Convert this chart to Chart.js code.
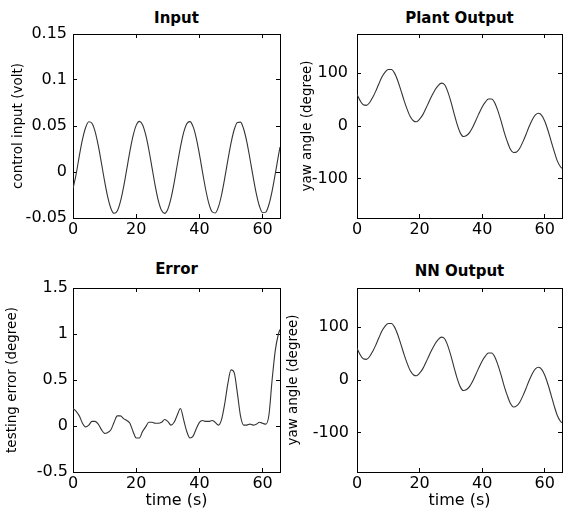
<!DOCTYPE html>
<html>
<head>
<meta charset="utf-8">
<script src="https://cdn.jsdelivr.net/npm/chart.js@4"></script>
<style>
  body { margin: 0; background: #fff; }
  #wrap { position: relative; width: 563px; height: 515px; overflow: hidden; background: #fff; }
  #wrap canvas { position: absolute; }
  .titulo { position: absolute; font: bold 15px "DejaVu Sans", sans-serif; text-align: center; color: #000; line-height: 18px; }
</style>
</head>
<body>
<div id="wrap">
  <div class="titulo" style="left:73px;width:207px;top:9px;">Input</div>
  <div class="titulo" style="left:357px;width:205px;top:9px;">Plant Output</div>
  <div class="titulo" style="left:73px;width:207px;top:260px;">Error</div>
  <div class="titulo" style="left:357px;width:205px;top:262px;">NN Output</div>
  <canvas id="cInput" width="283" height="250" style="left:0;top:0"></canvas>
  <canvas id="cPlanta" width="280" height="250" style="left:283px;top:0"></canvas>
  <canvas id="cError" width="283" height="265" style="left:0;top:250px"></canvas>
  <canvas id="cRed" width="280" height="265" style="left:283px;top:250px"></canvas>
</div>
<script>
// tiempo en segundos
const tiempo = [0,1,2,3,4,5,6,7,8,9,10,11,12,13,14,15,16,17,18,19,20,21,22,23,24,25,26,27,28,29,
  30,31,32,33,34,35,36,37,38,39,40,41,42,43,44,45,46,47,48,49,50,51,52,53,54,55,56,57,58,59,
  60,61,62,63,64,65,65.5];

// entrada de control (volt)
const entradaVolt = [-0.018, -0.0022, 0.0176, 0.0354, 0.0484, 0.0546, 0.0530, 0.0439, 0.0286, 0.0097,
  -0.0100, -0.0274, -0.0396, -0.0449, -0.0424, -0.0323, -0.0164, 0.0028, 0.0224, 0.0392,
  0.0507, 0.0550, 0.0514, 0.0405, 0.0242, 0.0047, -0.0147, -0.0311, -0.0417, -0.0450,
  -0.0405, -0.0288, -0.0118, 0.0079, 0.0270, 0.0427, 0.0525, 0.0548, 0.0493, 0.0369,
  0.0194, -0.0004, -0.0193, -0.0344, -0.0432, -0.0446, -0.0382, -0.0250, -0.0069, 0.0129,
  0.0314, 0.0459, 0.0539, 0.0542, 0.0467, 0.0328, 0.0144, -0.0054, -0.0235, -0.0372,
  -0.0443, -0.0436, -0.0353, -0.0207, -0.0020, 0.0178, 0.0271];

// salida de la planta (grados)
const salidaPlanta = [60, 48, 40, 39, 44, 54, 66, 80, 93, 102,
  107, 107, 100, 86, 68, 49, 32, 18, 10, 8,
  13, 21, 33, 46, 58, 69, 77, 81, 78, 65,
  46, 24, 3, -13, -20, -18, -12, -2, 11, 24,
  36, 45, 51, 51, 44, 29, 10, -11, -29, -44,
  -50, -49, -42, -30, -16, -1, 12, 21, 24, 20,
  9, -8, -28, -48, -66, -77, -80];

// error de prueba (grados)
const errorPrueba = [0.19, 0.16, 0.11, 0.03, -0.01, 0.01, 0.05, 0.05, 0.02, -0.04,
  -0.08, -0.07, -0.04, 0.04, 0.11, 0.11, 0.08, 0.06, 0.03, -0.06,
  -0.13, -0.13, -0.06, -0.01, 0.04, 0.04, 0.03, 0.03, 0.04, 0.07,
  0.05, 0.01, 0.04, 0.12, 0.19, 0.07, -0.06, -0.13, -0.11, -0.03,
  0.04, 0.06, 0.05, 0.05, 0.06, 0.04, 0.01, 0.07, 0.24, 0.46,
  0.61, 0.58, 0.36, 0.11, 0.01, 0.01, 0.02, 0.01, 0.02, 0.04,
  0.03, 0.02, 0.12, 0.50, 0.82, 1.00, 1.05];

// salida de la red neuronal (grados)
const salidaRed = [60, 48, 40, 39, 44, 54, 66, 80, 93, 102,
  107, 107, 100, 86, 68, 49, 32, 18, 10, 8,
  13, 21, 33, 46, 58, 69, 77, 81, 78, 65,
  46, 24, 3, -13, -20, -18, -12, -2, 11, 24,
  36, 45, 51, 51, 44, 29, 10, -11, -29, -44,
  -51, -49, -42, -30, -16, -1, 12, 21, 24, 20,
  9, -8, -28, -49, -67, -78, -81];

const fuenteTicks = { family: 'DejaVu Sans', size: 16 };
const fuenteEjeY = { family: 'DejaVu Sans', size: 13.5 };
const fuenteEjeX = { family: 'DejaVu Sans', size: 16 };

// etiquetas estilo matlab: 0.1 y no 0.10, 1 y no 1.0
function etiqueta(valor) {
  return String(Number(valor.toFixed(4)));
}

// Función para crear cada subgráfico
function crearGrafico(id, valores, o) {
  const puntos = tiempo.map((t, i) => ({ x: t, y: valores[i] }));
  const marcas = { drawOnChartArea: false, tickLength: -4, color: '#000' };
  return new Chart(document.getElementById(id), {
    type: 'line',
    data: {
      datasets: [{
        data: puntos,
        borderColor: '#333',
        borderWidth: 1.1,
        pointRadius: 0,
        cubicInterpolationMode: 'monotone',
        fill: false
      }]
    },
    options: {
      responsive: false,
      animation: false,
      layout: { padding: { top: o.arriba, right: o.derecha, bottom: 0, left: 0 } },
      plugins: { legend: { display: false }, tooltip: { enabled: false } },
      scales: {
        x: {
          type: 'linear', min: 0, max: 65.5,
          ticks: { stepSize: 20, includeBounds: false, padding: 6, color: '#000', font: fuenteTicks, maxRotation: 0, callback: etiqueta },
          grid: marcas,
          border: { color: '#000', width: 1 },
          title: { display: o.conTiempo, text: 'time (s)', color: '#000', font: fuenteEjeX, padding: { top: 0, bottom: 5 } },
          afterFit: s => { s.height = o.altoX; }
        },
        y: {
          type: 'linear', min: o.yMin, max: o.yMax,
          ticks: { stepSize: o.paso, includeBounds: false, padding: o.padTick, color: '#000', font: fuenteTicks, callback: etiqueta },
          grid: marcas,
          border: { color: '#000', width: 1 },
          title: { display: true, text: o.tituloY, color: '#000', font: fuenteEjeY, padding: { top: o.padTitulo, bottom: 0 } },
          afterFit: s => { s.width = o.anchoY; }
        },
        x2: {
          type: 'linear', position: 'top', min: 0, max: 65.5,
          ticks: { display: false, stepSize: 20, includeBounds: false },
          grid: marcas,
          border: { color: '#000', width: 1 },
          afterFit: s => { s.height = 0; }
        },
        y2: {
          type: 'linear', position: 'right', min: o.yMin, max: o.yMax,
          ticks: { display: false, stepSize: o.paso, includeBounds: false },
          grid: marcas,
          border: { color: '#000', width: 1 },
          afterFit: s => { s.width = 0; }
        }
      }
    }
  });
}

crearGrafico('cInput', entradaVolt, {
  arriba: 34, derecha: 3, anchoY: 73, altoX: 32, yMin: -0.05, yMax: 0.15, paso: 0.05,
  tituloY: 'control input (volt)', padTitulo: 10, padTick: 10, conTiempo: false
});
crearGrafico('cPlanta', salidaPlanta, {
  arriba: 34, derecha: 1, anchoY: 74, altoX: 32, yMin: -174, yMax: 174, paso: 100,
  tituloY: 'yaw angle (degree)', padTitulo: 16, padTick: 13, conTiempo: false
});
crearGrafico('cError', errorPrueba, {
  arriba: 38, derecha: 3, anchoY: 73, altoX: 43, yMin: -0.5, yMax: 1.5, paso: 0.5,
  tituloY: 'testing error (degree)', padTitulo: 4, padTick: 9, conTiempo: true
});
crearGrafico('cRed', salidaRed, {
  arriba: 38, derecha: 1, anchoY: 74, altoX: 43, yMin: -174, yMax: 174, paso: 100,
  tituloY: 'yaw angle (degree)', padTitulo: 2, padTick: 12, conTiempo: true
});
</script>
</body>
</html>
